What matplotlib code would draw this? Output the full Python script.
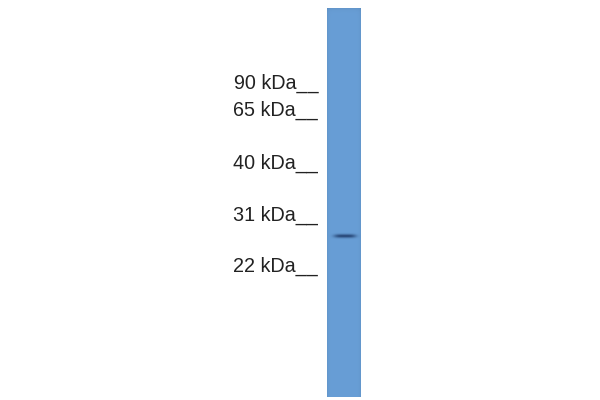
import numpy as np
import matplotlib
matplotlib.use('Agg')
import matplotlib.pyplot as plt

# marker ladder (labels and baseline position in the image, px from top)
marker_labels = ['90 kDa', '65 kDa', '40 kDa', '31 kDa', '22 kDa']
marker_y = [89, 116, 169, 221, 272]

# the single detected band
band_y = 236
band_strength = 0.75

lane_left, lane_right = 327, 361
lane_top, lane_bottom = 8, 397
lane_color = np.array([104, 158, 214]) / 255.0
band_color = np.array([20, 45, 90]) / 255.0

fig = plt.figure(figsize=(6, 4), dpi=100)
ax = fig.add_axes([0, 0, 1, 1])
ax.set_xlim(0, 600)
ax.set_ylim(400, 0)
ax.axis('off')

# lane image with the band darkening
yy, xx = np.mgrid[lane_top:lane_bottom, lane_left:lane_right] + 0.5
xc = (lane_left + lane_right) / 2 + 1
prof = band_strength * np.exp(-((yy - band_y) / 1.9) ** 2) * np.exp(-((xx - xc) / 11.0) ** 4)
# slightly darker along the edges of the lane
edge = 0.06 * (np.exp(-(xx - lane_left) / 1.5) + np.exp(-(lane_right - xx) / 1.5) + np.exp(-(yy - lane_top) / 2.0))
img = lane_color[None, None, :] * (1 - edge[..., None])
img = img * (1 - prof[..., None]) + band_color[None, None, :] * prof[..., None]
ax.imshow(np.clip(img, 0, 1), extent=(lane_left, lane_right, lane_bottom, lane_top),
          interpolation='bilinear', aspect='auto')

for lab, y in zip(marker_labels, marker_y):
    ax.text(318, y, lab + '__', ha='right', va='baseline', fontsize=14.2,
            family='Liberation Sans', color='#222222')

fig.savefig('out.png', dpi=100)
